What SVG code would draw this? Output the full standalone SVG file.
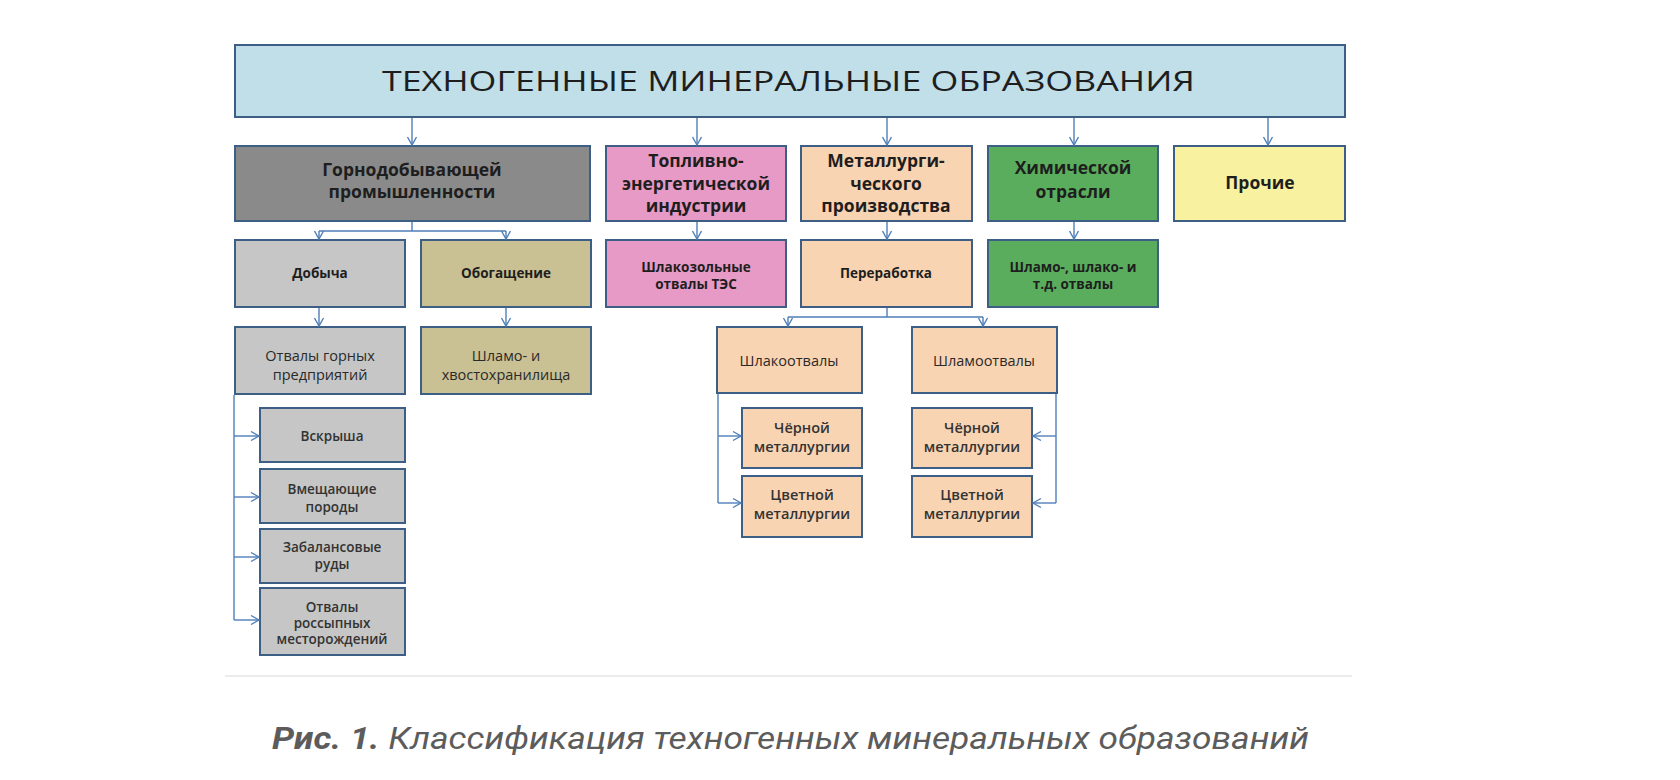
<svg xmlns="http://www.w3.org/2000/svg" width="1680" height="780" viewBox="0 0 1680 780">
<defs>
<marker id="arr" markerUnits="userSpaceOnUse" markerWidth="12" markerHeight="12" refX="9" refY="5" orient="auto" viewBox="0 0 12 10">
<path d="M1,0.5 L9,5 L1,9.5" fill="none" stroke="#4f7fb8" stroke-width="1.4"/>
</marker>
</defs>
<style>
.b{stroke:#3d5f86;stroke-width:2}
.t{font-family:"Open Sans","DejaVu Sans",sans-serif;text-anchor:middle;fill:#1e1e1e}
.h{font-size:17.5px;font-weight:bold}
.m{font-size:13.5px;font-weight:bold}
.r{font-size:14.5px;fill:#2a2a2a}
.s{font-size:13.5px;font-weight:600;fill:#333}
.p{font-size:14.5px;font-weight:600;fill:#333}
.c{stroke:#4f7fb8;stroke-width:1.4;fill:none}
.gray{fill:#8a8a8a}.lg{fill:#c6c6c6}.kh{fill:#c9c094}.pk{fill:#e69ac5}.pe{fill:#f9d4b2}.gr{fill:#5aad5d}.ye{fill:#f8f1a0}
</style>
<rect width="1680" height="780" fill="#ffffff"/>
<line x1="225" y1="676" x2="1352" y2="676" stroke="#ececec" stroke-width="2"/>

<g id="title">
<rect x="235" y="45" width="1110" height="72" fill="#c0dfe9" class="b"/>
<text class="t" x="788.5" y="91" font-size="28" fill="#111" textLength="813" lengthAdjust="spacingAndGlyphs">ТЕХНОГЕННЫЕ МИНЕРАЛЬНЫЕ ОБРАЗОВАНИЯ</text>
</g>

<g id="gorno">
<rect x="235" y="146" width="355" height="75" class="b gray"/>
<text class="t h" x="412" y="176">Горнодобывающей</text>
<text class="t h" x="412" y="198">промышленности</text>
</g>
<g id="toplivo">
<rect x="606" y="146" width="180" height="75" class="b pk"/>
<text class="t h" x="696" y="167">Топливно-</text>
<text class="t h" x="696" y="190">энергетической</text>
<text class="t h" x="696" y="212">индустрии</text>
</g>
<g id="metall">
<rect x="801" y="146" width="171" height="75" class="b pe"/>
<text class="t h" x="886" y="167">Металлурги-</text>
<text class="t h" x="886" y="190">ческого</text>
<text class="t h" x="886" y="212">производства</text>
</g>
<g id="khim">
<rect x="988" y="146" width="170" height="75" class="b gr"/>
<text class="t h" x="1073" y="174">Химической</text>
<text class="t h" x="1073" y="198">отрасли</text>
</g>
<g id="prochie">
<rect x="1174" y="146" width="171" height="75" class="b ye"/>
<text class="t h" x="1260" y="189">Прочие</text>
</g>

<g id="dobycha">
<rect x="235" y="240" width="170" height="67" class="b lg"/>
<text class="t m" x="320" y="278">Добыча</text>
</g>
<g id="obog">
<rect x="421" y="240" width="170" height="67" class="b kh"/>
<text class="t m" x="506" y="278">Обогащение</text>
</g>
<g id="shlakozol">
<rect x="606" y="240" width="180" height="67" class="b pk"/>
<text class="t m" x="696" y="272">Шлакозольные</text>
<text class="t m" x="696" y="289">отвалы ТЭС</text>
</g>
<g id="pererab">
<rect x="801" y="240" width="171" height="67" class="b pe"/>
<text class="t m" x="886" y="278">Переработка</text>
</g>
<g id="shlamo-shlako">
<rect x="988" y="240" width="170" height="67" class="b gr"/>
<text class="t m" x="1073" y="272">Шламо-, шлако- и</text>
<text class="t m" x="1073" y="289">т.д. отвалы</text>
</g>

<g id="otvaly-gornyh">
<rect x="235" y="327" width="170" height="67" class="b lg"/>
<text class="t r" x="320" y="361">Отвалы горных</text>
<text class="t r" x="320" y="380">предприятий</text>
</g>
<g id="shlamo-hvost">
<rect x="421" y="327" width="170" height="67" class="b kh"/>
<text class="t r" x="506" y="361">Шламо- и</text>
<text class="t r" x="506" y="380">хвостохранилища</text>
</g>
<g id="shlakootvaly">
<rect x="717" y="327" width="145" height="66" class="b pe"/>
<text class="t r" x="789" y="366">Шлакоотвалы</text>
</g>
<g id="shlamootvaly">
<rect x="912" y="327" width="145" height="66" class="b pe"/>
<text class="t r" x="984" y="366">Шламоотвалы</text>
</g>

<g id="vskrysha">
<rect x="260" y="408" width="145" height="54" class="b lg"/>
<text class="t s" x="332" y="441">Вскрыша</text>
</g>
<g id="vmesh">
<rect x="260" y="469" width="145" height="54" class="b lg"/>
<text class="t s" x="332" y="494">Вмещающие</text>
<text class="t s" x="332" y="512">породы</text>
</g>
<g id="zabalans">
<rect x="260" y="529" width="145" height="54" class="b lg"/>
<text class="t s" x="332" y="552">Забалансовые</text>
<text class="t s" x="332" y="569">руды</text>
</g>
<g id="rossyp">
<rect x="260" y="588" width="145" height="67" class="b lg"/>
<text class="t s" x="332" y="612">Отвалы</text>
<text class="t s" x="332" y="628">россыпных</text>
<text class="t s" x="332" y="644">месторождений</text>
</g>

<g id="chern1">
<rect x="742" y="408" width="120" height="60" class="b pe"/>
<text class="t p" x="802" y="433">Чёрной</text>
<text class="t p" x="802" y="452">металлургии</text>
</g>
<g id="tsvet1">
<rect x="742" y="476" width="120" height="61" class="b pe"/>
<text class="t p" x="802" y="500">Цветной</text>
<text class="t p" x="802" y="519">металлургии</text>
</g>
<g id="chern2">
<rect x="912" y="408" width="120" height="60" class="b pe"/>
<text class="t p" x="972" y="433">Чёрной</text>
<text class="t p" x="972" y="452">металлургии</text>
</g>
<g id="tsvet2">
<rect x="912" y="476" width="120" height="61" class="b pe"/>
<text class="t p" x="972" y="500">Цветной</text>
<text class="t p" x="972" y="519">металлургии</text>
</g>

<g id="connectors">
<path class="c" d="M412,118 V145" marker-end="url(#arr)"/>
<path class="c" d="M697,118 V145" marker-end="url(#arr)"/>
<path class="c" d="M887,118 V145" marker-end="url(#arr)"/>
<path class="c" d="M1074,118 V145" marker-end="url(#arr)"/>
<path class="c" d="M1268,118 V145" marker-end="url(#arr)"/>
<path class="c" d="M412,222 V231 M319,231 H506"/>
<path class="c" d="M319,231 V239" marker-end="url(#arr)"/>
<path class="c" d="M506,231 V239" marker-end="url(#arr)"/>
<path class="c" d="M697,222 V239" marker-end="url(#arr)"/>
<path class="c" d="M887,222 V239" marker-end="url(#arr)"/>
<path class="c" d="M1074,222 V239" marker-end="url(#arr)"/>
<path class="c" d="M319,308 V326" marker-end="url(#arr)"/>
<path class="c" d="M506,308 V326" marker-end="url(#arr)"/>
<path class="c" d="M887,308 V317 M788,317 H983"/>
<path class="c" d="M788,317 V326" marker-end="url(#arr)"/>
<path class="c" d="M983,317 V326" marker-end="url(#arr)"/>
<path class="c" d="M234,395 V620"/>
<path class="c" d="M234,436 H259" marker-end="url(#arr)"/>
<path class="c" d="M234,497 H259" marker-end="url(#arr)"/>
<path class="c" d="M234,557 H259" marker-end="url(#arr)"/>
<path class="c" d="M234,620 H259" marker-end="url(#arr)"/>
<path class="c" d="M718,394 V503"/>
<path class="c" d="M718,436 H741" marker-end="url(#arr)"/>
<path class="c" d="M718,503 H741" marker-end="url(#arr)"/>
<path class="c" d="M1056,394 V503"/>
<path class="c" d="M1056,436 H1033" marker-end="url(#arr)"/>
<path class="c" d="M1056,503 H1033" marker-end="url(#arr)"/>
</g>

<text x="272" y="749" font-family="Roboto,'Liberation Sans',sans-serif" font-size="31" font-style="italic" fill="#5c5c5c" textLength="1037" lengthAdjust="spacingAndGlyphs"><tspan font-weight="bold">Рис. 1.</tspan> Классификация техногенных минеральных образований</text>
</svg>
